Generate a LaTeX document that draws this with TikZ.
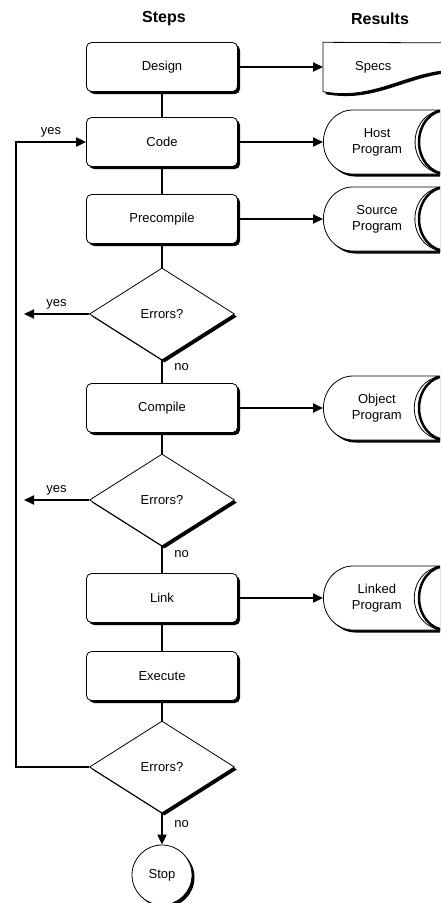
\documentclass[tikz,border=0pt]{standalone}
\usepackage{fontspec}
\setmainfont{Liberation Sans}
\usetikzlibrary{shapes.geometric,shadows,arrows.meta,backgrounds}
\tikzset{
  shade/.style={drop shadow={shadow xshift=2.5pt, shadow yshift=-2.5pt, opacity=1, fill=black}},
  stepbox/.style={draw, fill=white, shade, rounded corners=5pt, line width=0.8pt,
    minimum width=151pt, minimum height=49pt, font=\fontsize{13}{16}\selectfont},
  decision/.style={diamond, draw, fill=white, shade, line width=0.8pt, inner sep=0pt,
    aspect=1.6, minimum width=145pt, minimum height=92pt, font=\fontsize{13}{16}\selectfont},
  disk/.style={cylinder, draw, fill=white, shade, line width=0.8pt, aspect=1.7,
    minimum width=64pt, minimum height=150pt, align=center, anchor=west,
    font=\fontsize{13}{16}\selectfont},
  docnode/.style={anchor=west, inner xsep=32pt, minimum height=49pt,
    font=\fontsize{13}{16}\selectfont},
  stopnode/.style={circle, draw, fill=white, shade, line width=0.8pt, minimum size=60pt,
    font=\fontsize{13}{16}\selectfont},
  title/.style={font=\fontsize{16}{19}\selectfont\bfseries},
  label/.style={font=\fontsize{13}{16}\selectfont},
  wire/.style={line width=2pt},
  flow/.style={line width=2pt, -{Triangle[length=10pt, width=9pt]}}
}
\begin{document}
\begin{tikzpicture}[x=1pt, y=-1pt]
  \useasboundingbox (0,0) rectangle (440,903);
  \clip (0,0) rectangle (440,903);
  \node[title] (steps) at (164,19) {Steps};
  \node[title] (results) at (380,19) {Results};
  \node[stepbox] (design) at (162,67) {Design};
  \node[stepbox] (code) at (162,142) {Code};
  \node[stepbox] (precompile) at (162,219) {Precompile};
  \node[decision] (err1) at (162,314) {Errors?};
  \node[stepbox] (compile) at (162,408) {Compile};
  \node[decision] (err2) at (162,500) {Errors?};
  \node[stepbox] (link) at (162,598) {Link};
  \node[stepbox] (execute) at (162,676) {Execute};
  \node[decision] (err3) at (162,767) {Errors?};
  \node[stopnode] (stop) at (162,875) {Stop};
  \node[docnode] (specs) at (323,67) {Specs};
  \node[disk] (host) at (323,142) {Host\\Program};
  \node[disk] (source) at (323,219) {Source\\Program};
  \node[disk] (object) at (323,408) {Object\\Program};
  \node[disk] (linked) at (323,598) {Linked\\Program};
  \foreach \d in {host,source,object,linked}
    \draw[line width=2.5pt] (\d.top) ++(-27.6,-32) arc[start angle=270, end angle=90, x radius=27.2, y radius=32];
  \begin{scope}[on background layer]
    \draw[fill=white, shade, line width=0.8pt] (specs.north west) -- (specs.south west)
      .. controls (380,102) and (410,66) .. (470,70) -- (480,43) -- cycle;
  \end{scope}
  \coordinate (loop) at (16,400);
  \coordinate (out1) at (24,314);
  \coordinate (out2) at (24,500);
  \begin{scope}[wire]
    \draw (design) -- (code);
    \draw (code) -- (precompile);
    \draw (precompile) -- (err1);
    \draw (err1) -- node[label, right=8pt, pos=.3] {no} (compile);
    \draw (compile) -- (err2);
    \draw (err2) -- node[label, right=8pt, pos=.3] {no} (link);
    \draw (link) -- (execute);
    \draw (execute) -- (err3);
  \end{scope}
  \draw[flow] (err3) -- node[label, right=8pt, pos=.35] {no} (stop);
  \draw[flow] (err1.west) -- node[label, above=0pt] {yes} (out1);
  \draw[flow] (err2.west) -- node[label, above=0pt] {yes} (out2);
  \draw[flow] (err3.west) -| (loop) |- node[label, above=0pt, pos=.75] {yes} (code.west);
  \draw[flow] (design.east) -- (specs.west);
  \draw[flow] (code.east) -- (host.west);
  \draw[flow] (precompile.east) -- (source.west);
  \draw[flow] (compile.east) -- (object.west);
  \draw[flow] (link.east) -- (linked.west);
\end{tikzpicture}
\end{document}
